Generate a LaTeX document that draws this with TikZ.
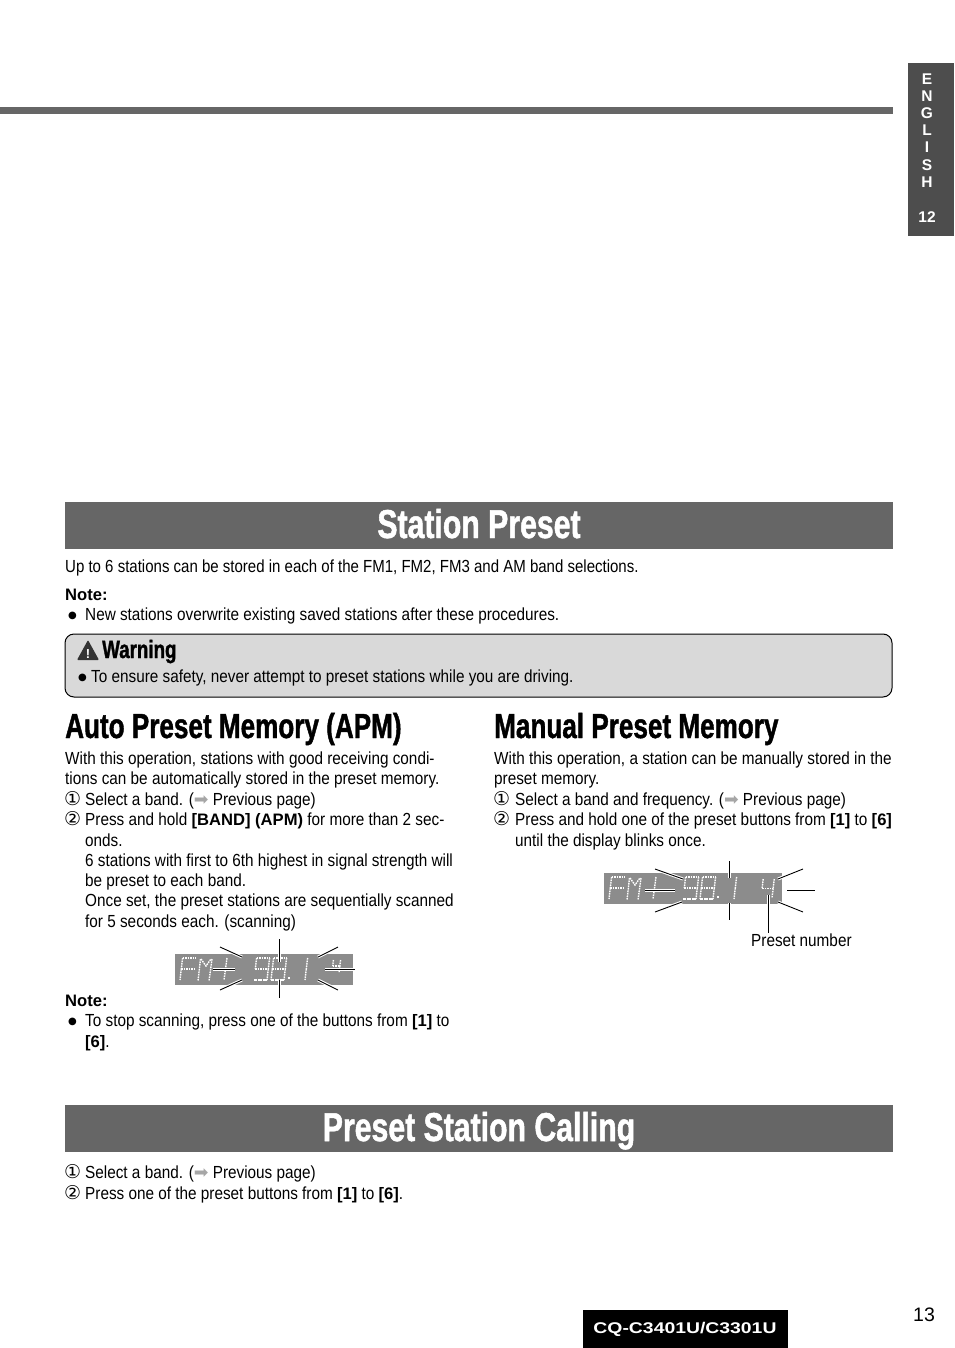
\documentclass[tikz,border=0pt]{standalone}
\usepackage{fontspec}
\usetikzlibrary{positioning,arrows.meta}
\newfontfamily\bodyfont[FakeStretch=0.875]{Liberation Sans}
\newfontfamily\introfont[FakeStretch=0.858]{Liberation Sans}
\newfontfamily\keyfont{Liberation Sans}
\newfontfamily\modelfont[FakeStretch=1.25]{Liberation Sans}
\newfontfamily\headfont[FakeStretch=0.75,BoldFeatures={FakeBold=1.2}]{Liberation Sans}
\newfontfamily\symfont{DejaVu Sans}
\newcommand{\keyword}[1]{{\keyfont\bfseries\fontsize{16.6}{20}\selectfont #1}}
\newcommand{\seepage}{{\symfont\textcolor{gray!70}{➡}}}
\definecolor{barcolor}{HTML}{666666}
\definecolor{tabcolor}{HTML}{4D4D4D}
\definecolor{panelcolor}{HTML}{D9D9D9}
\definecolor{lcdcolor}{HTML}{8C8C8C}
\tikzset{
	bodyline/.style={anchor=base west,inner sep=0pt,font=\bodyfont\fontsize{17.5}{20}\selectfont},
	noteline/.style={anchor=base west,inner sep=0pt,font=\keyfont\bfseries\fontsize{16.6}{20}\selectfont},
	numline/.style={anchor=base west,inner sep=0pt,font=\symfont\fontsize{19}{20}\selectfont},
	bulletmark/.style={anchor=base west,inner sep=0pt,font=\symfont\fontsize{10}{20}\selectfont},
	titleline/.style={anchor=base,inner sep=0pt,text=white,font=\headfont\bfseries\fontsize{40.3}{44}\selectfont},
	headline/.style={anchor=base west,inner sep=0pt,font=\headfont\bfseries\fontsize{34.8}{38}\selectfont},
	tabline/.style={anchor=base,inner sep=0pt,text=white,font=\keyfont\bfseries\fontsize{15.5}{18}\selectfont},
	lcdseg/.style={draw=white,line width=1.4pt,dash pattern=on 1.6pt off 0.9pt},
	flash/.style={draw=black,line width=0.9pt,preaction={draw=white,line width=3pt}},
	lcdglyph/.pic={
		\coordinate (p1) at (2.6,0);
		\coordinate (p2) at (15.6,0);
		\coordinate (p3) at (1.3,11);
		\coordinate (p4) at (14.3,11);
		\coordinate (p5) at (0,22);
		\coordinate (p6) at (13,22);
		\foreach \u/\v in {#1} \draw[lcdseg] (p\u) -- (p\v);
	},
	lcdpanel/.pic={
		\fill[lcdcolor] (0,0) rectangle (178,31);
		\pic at (5,4) {lcdglyph={1/2,1/3,3/4,3/5}};
		\draw[lcdseg] (25.5,5) -- (23,27);
		\draw[lcdseg] (37,5) -- (34,27);
		\draw[lcdseg] (26,5) -- (31,12) -- (36,5);
		\draw[lcdseg] (52,4) -- (49,26);
		\pic at (79,4) {lcdglyph={1/2,2/4,4/6,6/5,3/4,1/3}};
		\pic at (96,4) {lcdglyph={1/2,2/4,4/6,6/5,3/4,1/3,3/5}};
		\draw[lcdseg] (113,24) -- (114.5,24);
		\pic at (117,4) {lcdglyph={2/4,4/6}};
	}
}
\begin{document}
\begin{tikzpicture}[x=1pt,y=-1pt]
	\useasboundingbox (0,0) rectangle (954,1348);
	% page furniture
	\fill[barcolor] (0,107) rectangle (893,114);
	\fill[tabcolor] (908,63) rectangle (954,236);
	\foreach \letter/\ypos in {E/85,N/102,G/119,L/136,I/153,S/171,H/188}
		\node[tabline] (tab\letter) at (927,\ypos) {\letter};
	\node[tabline] (tabnum) at (927,223) {12};

	% first section
	\fill[barcolor] (65,502) rectangle (893,549);
	\node[titleline] (stationtitle) at (479,538) {Station Preset};
	\node[bodyline,font=\introfont\fontsize{17.5}{20}\selectfont] (intro) at (65,572) {Up to 6 stations can be stored in each of the FM1, FM2, FM3 and AM band selections.};
	\node[noteline] (noteone) at (65,600) {Note:};
	\node[bulletmark] (bulletone) at (68,618) {●};
	\node[bodyline] (notetext) at (85,620) {New stations overwrite existing saved stations after these procedures.};

	% warning box
	\draw[fill=panelcolor,line width=1pt,rounded corners=9pt] (65,634) rectangle (892,697);
	\fill[black!80,rounded corners=1pt] (88,640) -- (99,660) -- (77,660) -- cycle;
	\node[anchor=base,inner sep=0pt,text=white,font=\keyfont\bfseries\fontsize{13}{14}\selectfont] (warnmark) at (88,658) {!};
	\node[anchor=base west,inner sep=0pt,font=\headfont\bfseries\fontsize{25}{26}\selectfont] (warnhead) at (102,658) {Warning};
	\node[bulletmark] (bulletwarn) at (78,680) {●};
	\node[bodyline] (warntext) at (91,682) {To ensure safety, never attempt to preset stations while you are driving.};

	% left column
	\node[headline] (autohead) at (65,738) {Auto Preset Memory (APM)};
	\node[bodyline] (auto1) at (65,764) {With this operation, stations with good receiving condi-};
	\node[bodyline] (auto2) at (65,784) {tions can be automatically stored in the preset memory.};
	\node[numline] (autonum1) at (64,805) {①};
	\node[bodyline] (auto3) at (85,805) {Select a band. (\seepage{} Previous page)};
	\node[numline] (autonum2) at (64,825) {②};
	\node[bodyline] (auto4) at (85,825) {Press and hold \keyword{[BAND] (APM)} for more than 2 sec-};
	\node[bodyline] (auto5) at (85,846) {onds.};
	\node[bodyline] (auto6) at (85,866) {6 stations with first to 6th highest in signal strength will};
	\node[bodyline] (auto7) at (85,886) {be preset to each band.};
	\node[bodyline] (auto8) at (85,906) {Once set, the preset stations are sequentially scanned};
	\node[bodyline] (auto9) at (85,927) {for 5 seconds each. (scanning)};

	\pic at (175,954) {lcdpanel};
	\pic[scale=0.55] at (332,960) {lcdglyph={1/3,3/4,2/4,4/6}};
	\foreach \ax/\ay/\bx/\by in {220/947/242/957,220/990/242/980,279.5/939/279.5/962,279.5/980/279.5/998,213/969/235/969,338/947/318/957,338/990/318/980,325/969/355/969}
		\draw[flash] (\ax,\ay) -- (\bx,\by);

	\node[noteline] (notetwo) at (65,1006) {Note:};
	\node[bulletmark] (bullettwo) at (68,1024) {●};
	\node[bodyline] (stop1) at (85,1026) {To stop scanning, press one of the buttons from \keyword{[1]} to};
	\node[bodyline] (stop2) at (85,1047) {\keyword{[6]}.};

	% right column
	\node[headline] (manualhead) at (494,738) {Manual Preset Memory};
	\node[bodyline] (man1) at (494,764) {With this operation, a station can be manually stored in the};
	\node[bodyline] (man2) at (494,784) {preset memory.};
	\node[numline] (mannum1) at (493,805) {①};
	\node[bodyline] (man3) at (515,805) {Select a band and frequency. (\seepage{} Previous page)};
	\node[numline] (mannum2) at (493,825) {②};
	\node[bodyline] (man4) at (515,825) {Press and hold one of the preset buttons from \keyword{[1]} to \keyword{[6]}};
	\node[bodyline] (man5) at (515,846) {until the display blinks once.};

	\pic at (604,873) {lcdpanel};
	\pic[scale=0.85] at (761,879) {lcdglyph={1/3,3/4,2/4,4/6}};
	\foreach \ax/\ay/\bx/\by in {655/869/683/879,655/912/682/902,645/890/675/890,729.5/861/729.5/878,729.5/903/729.5/920,803/869/778/879,803/912/778/902,787/890/815/890}
		\draw[flash] (\ax,\ay) -- (\bx,\by);
	\node[bodyline] (presetlabel) at (751,946) {Preset number};
	\coordinate (presetdigit) at (768.5,895);
	\draw[flash] (presetdigit) -- (presetdigit |- presetlabel.north);

	% second section
	\fill[barcolor] (65,1105) rectangle (893,1152);
	\node[titleline] (callingtitle) at (479,1141) {Preset Station Calling};
	\node[numline] (callnum1) at (64,1178) {①};
	\node[bodyline] (call1) at (85,1178) {Select a band. (\seepage{} Previous page)};
	\node[numline] (callnum2) at (64,1199) {②};
	\node[bodyline] (call2) at (85,1199) {Press one of the preset buttons from \keyword{[1]} to \keyword{[6]}.};

	% footer
	\fill[black] (583,1310) rectangle (788,1348);
	\node[anchor=base,inner sep=0pt,text=white,font=\modelfont\bfseries\fontsize{15.5}{18}\selectfont] (modelname) at (685,1333) {CQ-C3401U/C3301U};
	\node[anchor=base west,inner sep=0pt,font=\keyfont\fontsize{19.5}{22}\selectfont] (pagenum) at (913,1321) {13};
\end{tikzpicture}
\end{document}
